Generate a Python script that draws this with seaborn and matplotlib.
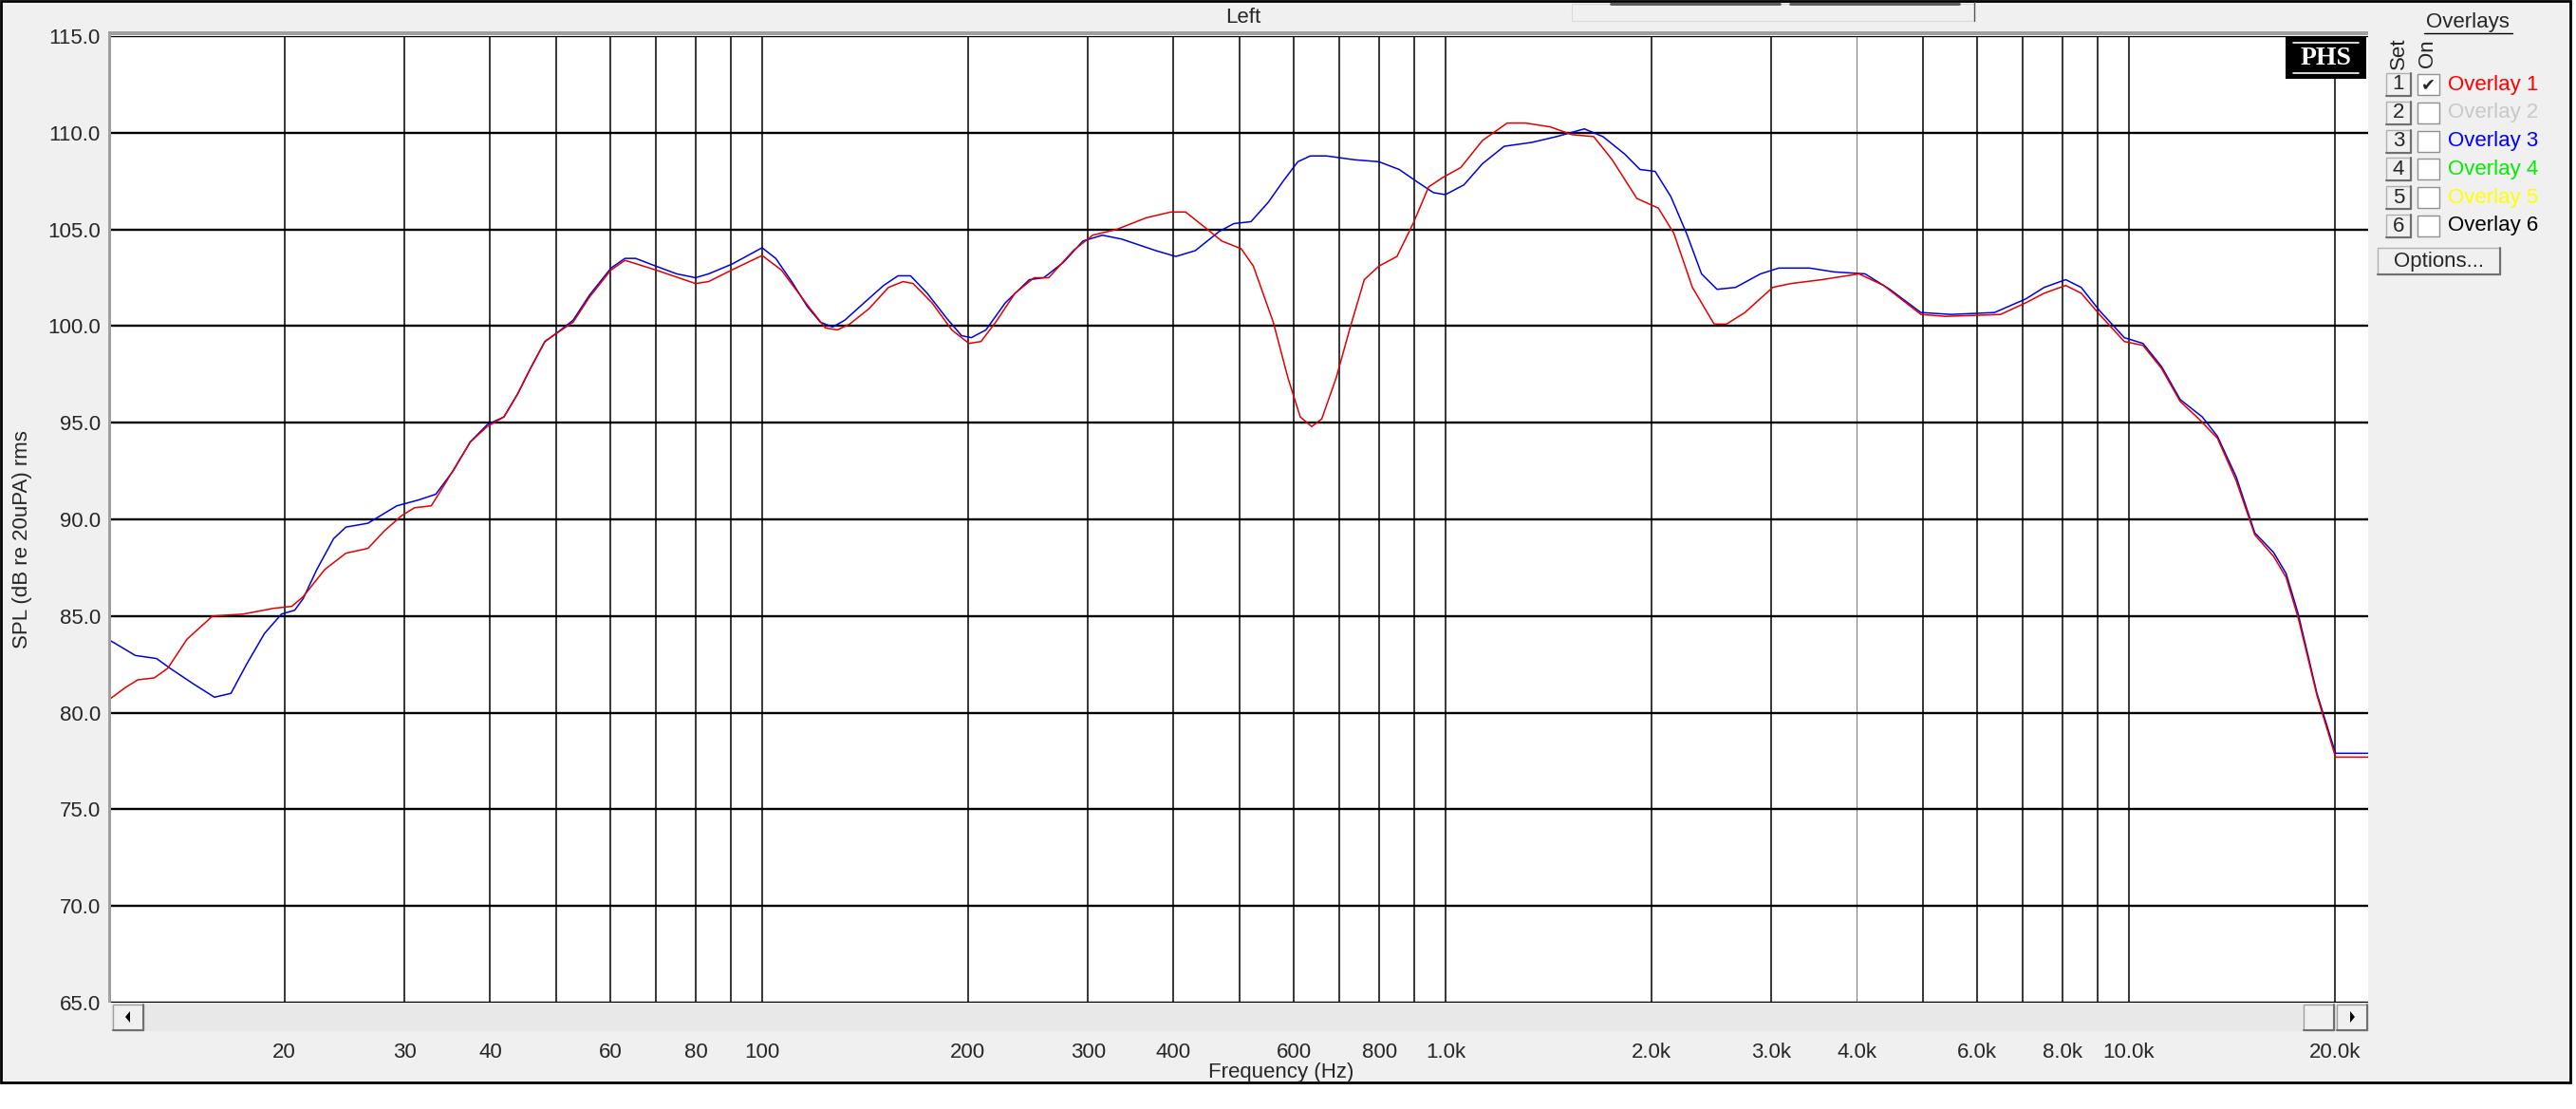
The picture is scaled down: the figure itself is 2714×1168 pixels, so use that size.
import matplotlib
matplotlib.use("Agg")
import matplotlib.pyplot as plt
from matplotlib.patches import Rectangle, Polygon
from matplotlib.lines import Line2D
from matplotlib.ticker import NullLocator
import pandas as pd
import seaborn as sns

# Overlay 1 (red) - frequency in Hz, SPL in dB
overlay1_freq = [11.1, 11.7, 12.2, 12.9, 13.5, 14.4, 15.7, 17.4, 19.3, 20.5,
                 21.3, 22.9, 24.6, 26.5, 28.0, 29.7, 31.0, 32.8, 34.3, 37.4,
                 39.6, 41.9, 43.9, 45.8, 48.1, 49.9, 52.9, 55.9, 60.1, 63.0,
                 69.9, 79.9, 83.5, 90.3, 100, 106.7, 117.0, 123.8, 128.9, 134.3,
                 143.4, 153.1, 160.8, 166.3, 177.3, 189.5, 200.8, 209.1, 219.7, 234.5,
                 250.1, 262.7, 285.3, 304.6, 330.3, 364.8, 396.5, 416.6, 444.8, 470.6,
                 502.5, 523.5, 559.8, 588.4, 613.1, 637.3, 659.2, 691.7, 725.1, 760.8,
                 799.2, 849.3, 899.4, 945.0, 992.8, 1053, 1133, 1231, 1311, 1424,
                 1532, 1648, 1754, 1906, 2049, 2159, 2298, 2473, 2578, 2743,
                 3013, 3204, 3555, 4028, 4377, 4964, 5392, 6491, 7065, 7520,
                 8085, 8518, 9060, 9851, 10490, 11170, 11890, 12660, 13480, 14360,
                 15290, 16280, 16990, 17700, 18850, 20070, 22400]
overlay1_spl = [80.7, 81.3, 81.7, 81.8, 82.3, 83.8, 85.0, 85.1, 85.4, 85.5,
                86.0, 87.4, 88.25, 88.5, 89.4, 90.2, 90.6, 90.7, 91.8, 94.0,
                94.8, 95.3, 96.5, 97.8, 99.2, 99.6, 100.2, 101.5, 102.9, 103.4,
                102.9, 102.2, 102.3, 102.9, 103.65, 102.9, 101.0, 99.9, 99.8, 100.1,
                100.9, 102.0, 102.3, 102.2, 101.2, 99.8, 99.1, 99.2, 100.2, 101.7,
                102.5, 102.5, 103.9, 104.7, 105.0, 105.6, 105.9, 105.9, 105.1, 104.4,
                104.0, 103.1, 100.2, 97.3, 95.3, 94.8, 95.2, 97.3, 99.9, 102.4,
                103.1, 103.6, 105.4, 107.2, 107.7, 108.2, 109.6, 110.5, 110.5, 110.3,
                109.9, 109.8, 108.6, 106.6, 106.1, 104.8, 102.0, 100.1, 100.1, 100.7,
                102.0, 102.2, 102.4, 102.7, 102.1, 100.6, 100.5, 100.6, 101.2, 101.7,
                102.1, 101.7, 100.6, 99.2, 99.0, 97.8, 96.1, 95.2, 94.2, 92.0,
                89.2, 88.1, 87.0, 84.9, 80.9, 77.7, 77.7]

# Overlay 3 (blue)
overlay3_freq = [11.1, 12.1, 13.0, 13.6, 14.7, 15.8, 16.7, 17.6, 18.7, 19.8,
                 20.7, 21.3, 22.3, 23.6, 24.6, 26.5, 29.2, 31.4, 33.3, 35.3,
                 37.4, 39.6, 41.9, 43.9, 45.8, 48.1, 49.9, 52.9, 55.9, 60.1,
                 63.0, 65.3, 69.9, 75.0, 79.9, 83.5, 90.3, 100, 104.7, 110.5,
                 116.5, 121.7, 126.8, 132.1, 141.0, 150.6, 158.1, 164.9, 174.4, 186.3,
                 195.9, 202.4, 212.6, 226.9, 246.1, 258.4, 276.1, 294.8, 314.7, 335.8,
                 377.0, 403.1, 430.4, 466.9, 490.2, 519.3, 550.4, 578.9, 608.1, 634.2,
                 669.6, 736.6, 799.2, 855.6, 914.3, 960.6, 1000, 1064, 1133, 1219,
                 1338, 1454, 1597, 1700, 1829, 1926, 2027, 2137, 2253, 2370,
                 2497, 2658, 2891, 3075, 3411, 3706, 4112, 4470, 4964, 5497,
                 6360, 7065, 7520, 8085, 8518, 9060, 9851, 10490, 11170, 11890,
                 12810, 13480, 14360, 15290, 16280, 16990, 17700, 18850, 20070, 22400]
overlay3_spl = [83.75, 82.96, 82.8, 82.3, 81.5, 80.8, 81.0, 82.5, 84.1, 85.1,
                85.3, 85.9, 87.4, 89.0, 89.6, 89.8, 90.7, 91.0, 91.3, 92.5,
                94.0, 94.9, 95.3, 96.5, 97.8, 99.2, 99.6, 100.3, 101.6, 103.0,
                103.5, 103.5, 103.1, 102.7, 102.5, 102.7, 103.2, 104.05, 103.5, 102.3,
                101.0, 100.2, 99.95, 100.3, 101.2, 102.1, 102.6, 102.6, 101.7, 100.4,
                99.5, 99.4, 99.8, 101.2, 102.4, 102.5, 103.3, 104.4, 104.7, 104.5,
                103.9, 103.6, 103.9, 104.9, 105.3, 105.4, 106.4, 107.5, 108.5, 108.8,
                108.8, 108.6, 108.5, 108.1, 107.4, 106.9, 106.8, 107.3, 108.4, 109.3,
                109.5, 109.8, 110.2, 109.8, 108.9, 108.1, 108.0, 106.7, 104.8, 102.7,
                101.9, 102.0, 102.7, 103.0, 103.0, 102.8, 102.7, 101.9, 100.7, 100.6,
                100.7, 101.4, 102.0, 102.4, 102.0, 100.8, 99.4, 99.1, 97.9, 96.2,
                95.3, 94.3, 92.2, 89.3, 88.3, 87.2, 85.1, 81.0, 77.9, 77.9]

y_ticks = [65.0, 70.0, 75.0, 80.0, 85.0, 90.0, 95.0, 100.0, 105.0, 110.0, 115.0]
x_ticks = [20, 30, 40, 50, 60, 70, 80, 90, 100,
           200, 300, 400, 500, 600, 700, 800, 900, 1000,
           2000, 3000, 4000, 5000, 6000, 7000, 8000, 9000, 10000, 20000]
x_tick_labels = ["20", "30", "40", "", "60", "", "80", "", "100",
                 "200", "300", "400", "", "600", "", "800", "", "1.0k",
                 "2.0k", "3.0k", "4.0k", "", "6.0k", "", "8.0k", "", "10.0k", "20.0k"]

overlay_names = ["Overlay 1", "Overlay 2", "Overlay 3", "Overlay 4", "Overlay 5", "Overlay 6"]
overlay_colors = ["#ff0000", "#c8c8c8", "#0000ff", "#00ee00", "#ffff00", "#000000"]
overlay_on = [True, False, False, False, False, False]

W, H = 2714, 1168


def fx(px):
    return px / W


def fy(py):
    return 1 - py / H


def box(x0, y0, x1, y1, **kw):
    # rectangle given in pixel coords (top-left origin)
    r = Rectangle((fx(x0), fy(y1)), fx(x1) - fx(x0), fy(y0) - fy(y1),
                  transform=fig.transFigure, **kw)
    fig.add_artist(r)
    return r


def hline(x0, x1, y, **kw):
    fig.add_artist(Line2D([fx(x0), fx(x1)], [fy(y), fy(y)], transform=fig.transFigure, **kw))


def vline(x, y0, y1, **kw):
    fig.add_artist(Line2D([fx(x), fx(x)], [fy(y0), fy(y1)], transform=fig.transFigure, **kw))


sns.set_style("white")
plt.rcParams['font.family'] = ['Liberation Sans', 'DejaVu Sans']

fig = plt.figure(figsize=(W / 100, H / 100), dpi=100)
fig.patch.set_facecolor("white")

# window background
box(1, 1, 2708, 1140, facecolor="#f0f0f0", edgecolor="black", lw=2, zorder=0)

# main plot
ax = fig.add_axes([fx(117), fy(1056), fx(2495) - fx(117), (1056 - 38) / H])
ax.set_facecolor("white")
for f in x_ticks:
    if f == 4000:
        ax.axvline(f, color="#606060", lw=0.6, zorder=1)
    else:
        ax.axvline(f, color="black", lw=1.1, zorder=1)
for v in y_ticks:
    ax.axhline(v, color="black", lw=1.7, zorder=1)

df1 = pd.DataFrame({"freq": overlay1_freq, "spl": overlay1_spl})
df3 = pd.DataFrame({"freq": overlay3_freq, "spl": overlay3_spl})
sns.lineplot(data=df3, x="freq", y="spl", ax=ax, color="#0000dd", linewidth=1.1, zorder=3)
sns.lineplot(data=df1, x="freq", y="spl", ax=ax, color="#e00000", linewidth=1.1, zorder=4)

ax.set_xscale("log")
ax.set_xlim(11.15, 22400)
ax.set_ylim(65, 115)
ax.set_xticks([])
ax.xaxis.set_minor_locator(NullLocator())
ax.set_yticks(y_ticks)
ax.set_yticklabels([f"{v:.1f}" for v in y_ticks], fontsize=16)
ax.tick_params(axis="y", length=0, pad=8)
ax.set_xlabel("")
ax.set_ylabel("")
for s in ax.spines.values():
    s.set_visible(False)

# grey frame edge on top and left of the plot
box(114, 33, 2495, 37, facecolor="#a0a0a0", edgecolor="none", zorder=5)
box(114, 33, 117, 1056, facecolor="#a0a0a0", edgecolor="none", zorder=5)

# scrollbar strip with the frequency ticks under it
sb = fig.add_axes([fx(117), fy(1086), fx(2495) - fx(117), 30 / H])
sb.set_facecolor("#e8e8e8")
sb.set_xscale("log")
sb.set_xlim(11.15, 22400)
sb.set_yticks([])
sb.set_xticks(x_ticks)
sb.set_xticklabels(x_tick_labels, fontsize=16)
sb.xaxis.set_minor_locator(NullLocator())
sb.tick_params(axis="x", direction="out", length=4.5, width=1, color="black", pad=4)
for s in sb.spines.values():
    s.set_visible(False)

for x0, x1, arrow in [(119, 151, "left"), (2427, 2459, None), (2462, 2494, "right")]:
    box(x0, 1058, x1, 1085, facecolor="#f0f0f0", edgecolor="#a0a0a0", lw=1, zorder=6)
    hline(x0, x1, 1085, color="#707070", lw=1.5, zorder=7)
    vline(x1, 1058, 1085, color="#707070", lw=1.5, zorder=7)
    cx, cy = (x0 + x1) / 2, 1071
    if arrow == "left":
        pts = [(fx(cx - 3), fy(cy)), (fx(cx + 2), fy(cy - 6)), (fx(cx + 2), fy(cy + 6))]
    elif arrow == "right":
        pts = [(fx(cx + 3), fy(cy)), (fx(cx - 2), fy(cy - 6)), (fx(cx - 2), fy(cy + 6))]
    else:
        continue
    fig.add_artist(Polygon(pts, closed=True, transform=fig.transFigure,
                           facecolor="black", edgecolor="none", zorder=8))

# axis texts
fig.text(fx(1350), fy(1130), "Frequency (Hz)", ha="center", va="center", fontsize=16)
fig.text(fx(24), fy(568), "SPL (dB re 20uPA) rms", rotation=90, ha="center", va="center", fontsize=16)
fig.text(fx(1310), fy(19), "Left", ha="center", va="center", fontsize=16)

# faint controls along the top
box(1656, 4, 2080, 22, facecolor="none", edgecolor="#d5dbe3", lw=0.8, zorder=2)
hline(1697, 1875, 4, color="#555555", lw=2, zorder=3)
hline(1886, 2064, 4, color="#555555", lw=2, zorder=3)
vline(2080, 2, 22, color="#555555", lw=1, zorder=3)

# PHS logo
box(2408, 38, 2493, 83, facecolor="black", edgecolor="none", zorder=9)
hline(2416, 2485, 45, color="white", lw=1.2, zorder=10)
hline(2416, 2485, 77, color="white", lw=1.2, zorder=10)
fig.text(fx(2450.5), fy(61), "PHS", ha="center", va="center", color="white",
         fontsize=20, fontweight="bold", family=["Liberation Serif", "DejaVu Serif"], zorder=10)

# overlays panel
fig.text(fx(2600), fy(24), "Overlays", ha="center", va="center", fontsize=16)
hline(2554, 2647, 35, color="black", lw=1)
fig.text(fx(2527), fy(56), "Set", rotation=90, ha="center", va="center", fontsize=16)
fig.text(fx(2558), fy(56), "On", rotation=90, ha="center", va="center", fontsize=16)

for i, (name, col, on) in enumerate(zip(overlay_names, overlay_colors, overlay_on)):
    yc = 89 + 29.8 * i
    box(2514, yc - 12, 2540, yc + 12, facecolor="#f0f0f0", edgecolor="#b0b0b0", lw=1)
    hline(2514, 2540, yc + 12, color="#707070", lw=1.5)
    vline(2540, yc - 12, yc + 12, color="#707070", lw=1.5)
    fig.text(fx(2527), fy(yc), str(i + 1), ha="center", va="center", fontsize=16)
    box(2547, yc - 11, 2570, yc + 11, facecolor="white", edgecolor="#909090", lw=1)
    if on:
        fig.text(fx(2558.5), fy(yc), "\u2714", ha="center", va="center", fontsize=13,
                 family=["DejaVu Sans"])
    fig.text(fx(2579), fy(yc), name, ha="left", va="center", color=col, fontsize=16)

box(2505, 261, 2634, 289, facecolor="#f0f0f0", edgecolor="#b0b0b0", lw=1)
hline(2505, 2634, 289, color="#707070", lw=1.5)
vline(2634, 261, 289, color="#707070", lw=1.5)
fig.text(fx(2569.5), fy(275), "Options...", ha="center", va="center", fontsize=16)

fig.savefig("out.png", dpi=100)
